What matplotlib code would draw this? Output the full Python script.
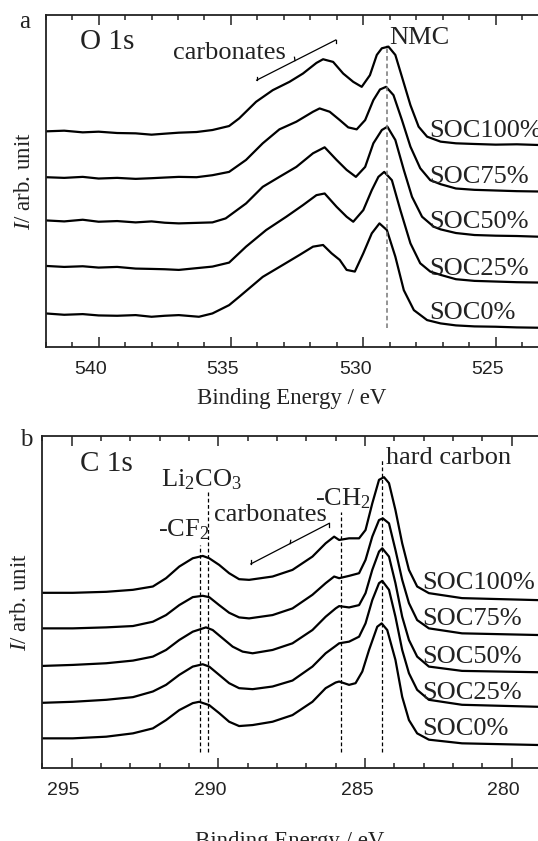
import matplotlib
matplotlib.use('Agg')
import matplotlib.pyplot as plt
from matplotlib.ticker import MultipleLocator
from matplotlib.transforms import ScaledTranslation

plt.rcParams['font.family'] = 'Liberation Serif'
plt.rcParams['mathtext.fontset'] = 'custom'
plt.rcParams['mathtext.rm'] = 'Liberation Serif'
plt.rcParams['mathtext.it'] = 'Liberation Serif:italic'

soc_labels = ['SOC100%', 'SOC75%', 'SOC50%', 'SOC25%', 'SOC0%']

# ---- O 1s (panel a), binding energy in eV / offset intensity ----
o1s_e100 = [542.0, 541.3, 540.6, 540.0, 539.3, 538.6, 538.0, 537.5, 536.97, 536.3, 535.70, 535.07,
            534.69, 534.05, 533.42, 532.79, 532.28, 531.77, 531.52, 531.14, 530.76, 530.38, 530.06,
            529.75, 529.49, 529.30, 529.05, 528.79, 528.54, 528.22, 527.91, 527.59, 527.08, 526.5,
            525.8, 525.0, 524.2, 523.4]
o1s_i100 = [6.50, 6.52, 6.47, 6.49, 6.45, 6.44, 6.40, 6.43, 6.46, 6.48, 6.54, 6.66,
            6.89, 7.39, 7.74, 7.99, 8.24, 8.56, 8.67, 8.59, 8.24, 7.99, 7.84,
            8.19, 8.80, 9.00, 9.05, 8.80, 8.14, 7.29, 6.64, 6.34, 6.19, 6.14,
            6.12, 6.10, 6.11, 6.09]
o1s_e75 = [542.0, 541.3, 540.6, 540.0, 539.3, 538.6, 538.0, 537.5, 536.97, 536.3, 535.70, 535.07,
           534.43, 533.80, 533.17, 532.53, 531.90, 531.65, 531.27, 530.89, 530.57, 530.25, 529.93,
           529.62, 529.37, 529.14, 528.86, 528.54, 528.22, 527.85, 527.47, 527.08, 526.5, 525.8,
           525.0, 524.2, 523.4]
o1s_i75 = [5.12, 5.10, 5.13, 5.08, 5.10, 5.07, 5.09, 5.11, 5.13, 5.12, 5.18, 5.28,
           5.64, 6.14, 6.56, 6.79, 7.09, 7.19, 7.09, 6.84, 6.62, 6.56, 6.84,
           7.44, 7.76, 7.84, 7.59, 6.84, 6.04, 5.39, 5.03, 4.91, 4.78, 4.74,
           4.72, 4.70, 4.69]
o1s_e50 = [542.0, 541.3, 540.6, 540.0, 539.3, 538.6, 538.0, 537.5, 536.97, 535.70, 535.20, 534.43,
           533.80, 533.17, 532.53, 531.90, 531.46, 531.01, 530.63, 530.28, 529.93, 529.62, 529.30,
           529.09, 528.79, 528.47, 528.16, 527.78, 527.34, 527.08, 526.5, 525.8, 525.0, 524.2, 523.4]
o1s_i50 = [3.82, 3.79, 3.84, 3.78, 3.80, 3.76, 3.79, 3.75, 3.73, 3.76, 3.88, 4.33,
           4.83, 5.13, 5.43, 5.84, 6.02, 5.64, 5.34, 5.13, 5.43, 6.14, 6.54,
           6.64, 6.24, 5.34, 4.53, 3.93, 3.63, 3.55, 3.44, 3.38, 3.36, 3.35, 3.33]
o1s_e25 = [542.0, 541.3, 540.6, 540.0, 539.3, 538.6, 538.0, 537.5, 536.97, 535.70, 535.07, 534.43,
           533.67, 532.91, 532.28, 531.77, 531.46, 531.01, 530.63, 530.38, 530.00, 529.68, 529.43,
           529.21, 528.92, 528.60, 528.22, 527.85, 527.47, 527.08, 526.5, 525.8, 525.0, 524.2, 523.4]
o1s_i25 = [2.45, 2.42, 2.44, 2.40, 2.42, 2.37, 2.36, 2.35, 2.33, 2.43, 2.55, 3.03,
           3.53, 3.93, 4.28, 4.58, 4.63, 4.23, 3.93, 3.78, 4.13, 4.73, 5.13,
           5.28, 5.03, 4.13, 3.13, 2.53, 2.28, 2.18, 2.05, 2.00, 1.98, 1.96, 1.95]
o1s_e0 = [542.0, 541.3, 540.6, 540.0, 539.3, 538.6, 538.0, 537.5, 536.97, 536.21, 535.70, 535.07,
          534.69, 533.80, 533.04, 532.41, 531.90, 531.52, 531.20, 530.89, 530.63, 530.32, 530.00,
          529.68, 529.39, 529.11, 528.79, 528.47, 528.09, 527.59, 527.08, 526.5, 525.8, 525.0,
          524.2, 523.4]
o1s_i0 = [1.02, 0.98, 1.00, 0.96, 0.95, 0.97, 0.92, 0.95, 0.97, 0.92, 1.02, 1.27,
          1.52, 2.12, 2.48, 2.78, 3.03, 3.08, 2.83, 2.63, 2.33, 2.28, 2.83,
          3.43, 3.73, 3.53, 2.73, 1.72, 1.12, 0.82, 0.72, 0.66, 0.63, 0.62,
          0.60, 0.59]

# ---- C 1s (panel b) ----
c1s_e100 = [295.98, 294.96, 293.82, 292.91, 292.23, 291.78, 291.33, 290.87, 290.53, 290.31, 289.97,
            289.63, 289.29, 288.95, 288.15, 287.47, 286.79, 286.34, 286.05, 285.88, 285.54, 285.20,
            284.98, 284.75, 284.52, 284.35, 284.18, 283.96, 283.73, 283.50, 283.22, 282.82, 281.69, 279.1]
c1s_i100 = [5.28, 5.28, 5.31, 5.37, 5.47, 5.72, 6.07, 6.32, 6.39, 6.32, 6.12,
            5.87, 5.69, 5.67, 5.77, 5.97, 6.37, 6.77, 6.97, 6.87, 6.92, 6.92,
            7.17, 7.97, 8.68, 8.76, 8.58, 7.77, 6.77, 5.97, 5.47, 5.27, 5.12, 5.06]
c1s_e75 = [295.98, 294.96, 293.82, 292.91, 292.23, 291.78, 291.33, 290.87, 290.53, 290.31, 289.97,
           289.63, 289.29, 288.95, 288.15, 287.47, 286.79, 286.34, 286.05, 285.88, 285.54, 285.20,
           284.98, 284.75, 284.52, 284.39, 284.18, 283.96, 283.73, 283.50, 283.22, 282.82, 281.69, 279.1]
c1s_i75 = [4.21, 4.21, 4.24, 4.28, 4.41, 4.61, 4.91, 5.15, 5.19, 5.15, 4.91,
           4.68, 4.54, 4.51, 4.61, 4.81, 5.22, 5.57, 5.77, 5.72, 5.79, 5.87,
           6.27, 6.97, 7.47, 7.52, 7.37, 6.57, 5.67, 4.97, 4.46, 4.21, 4.06, 4.01]
c1s_e50 = [295.98, 294.96, 293.82, 292.91, 292.23, 291.78, 291.33, 290.87, 290.42, 290.19, 289.85,
           289.51, 289.17, 288.83, 288.15, 287.47, 286.79, 286.34, 286.00, 285.88, 285.54, 285.20,
           284.98, 284.75, 284.52, 284.41, 284.18, 283.96, 283.73, 283.50, 283.22, 282.82, 281.69, 279.1]
c1s_i50 = [3.08, 3.11, 3.16, 3.24, 3.36, 3.56, 3.86, 4.11, 4.24, 4.16, 3.91,
           3.66, 3.51, 3.46, 3.56, 3.76, 4.16, 4.56, 4.81, 4.88, 4.84, 4.91,
           5.27, 5.97, 6.52, 6.62, 6.37, 5.57, 4.56, 3.86, 3.36, 3.06, 2.93, 2.89]
c1s_e25 = [295.98, 294.96, 293.82, 292.91, 292.23, 291.78, 291.33, 290.87, 290.53, 290.31, 289.97,
           289.63, 289.29, 288.83, 288.15, 287.47, 286.79, 286.34, 286.00, 285.88, 285.54, 285.20,
           284.98, 284.75, 284.52, 284.41, 284.18, 283.96, 283.73, 283.50, 283.22, 282.82, 281.69, 279.1]
c1s_i25 = [1.97, 2.00, 2.06, 2.14, 2.31, 2.51, 2.81, 3.06, 3.13, 3.06, 2.81,
           2.56, 2.41, 2.38, 2.46, 2.64, 3.06, 3.46, 3.68, 3.76, 3.81, 3.96,
           4.36, 5.06, 5.57, 5.64, 5.37, 4.56, 3.56, 2.86, 2.36, 2.06, 1.91, 1.85]
c1s_e0 = [295.98, 294.96, 293.82, 292.91, 292.23, 291.78, 291.33, 290.87, 290.65, 290.31, 289.97,
          289.63, 289.29, 288.83, 288.15, 287.47, 286.79, 286.34, 286.00, 285.88, 285.54, 285.32,
          285.09, 284.86, 284.58, 284.43, 284.24, 283.96, 283.73, 283.50, 283.22, 282.82, 281.69, 279.1]
c1s_i0 = [0.90, 0.90, 0.95, 1.05, 1.20, 1.45, 1.75, 1.96, 2.00, 1.90, 1.66,
          1.40, 1.27, 1.30, 1.40, 1.60, 2.00, 2.41, 2.58, 2.61, 2.51, 2.56,
          2.91, 3.56, 4.26, 4.36, 4.16, 3.26, 2.15, 1.45, 1.05, 0.86, 0.75, 0.70]

o1s_label_y = [6.52, 5.13, 3.76, 2.36, 1.02]
c1s_label_y = [5.57, 4.49, 3.36, 2.26, 1.18]

INK = '#222222'

fig = plt.figure(figsize=(5.38, 8.41), dpi=100)
ax1 = fig.add_axes([0.0849, 0.587, 0.9151, 0.3951])
ax2 = fig.add_axes([0.0786, 0.0865, 0.9214, 0.3951])


def setup_axis(ax, xlim, majors, labelpad):
    ax.set_xlim(*xlim)
    ax.set_ylim(0, 10)
    ax.set_xticks(majors)
    ax.xaxis.set_minor_locator(MultipleLocator(1))
    ax.set_yticks([])
    ax.spines['right'].set_visible(False)
    for s in ['left', 'top', 'bottom']:
        ax.spines[s].set_linewidth(1.3)
        ax.spines[s].set_color(INK)
    ax.tick_params(axis='x', which='both', direction='in', top=True, bottom=True,
                   color=INK, width=1.1, pad=10)
    ax.tick_params(axis='x', which='major', length=7.5)
    ax.tick_params(axis='x', which='minor', length=3.5)
    # tick labels sit a little left of their ticks in the original
    for lab in ax.get_xticklabels():
        lab.set_fontfamily('Liberation Sans')
        lab.set_fontsize(14)
        lab.set_color(INK)
        lab.set_transform(lab.get_transform() + ScaledTranslation(-0.08, 0, fig.dpi_scale_trans))
    ax.set_xlabel('Binding Energy / eV', fontsize=16.5, labelpad=labelpad, color=INK)
    ax.set_ylabel('$I$/ arb. unit', fontsize=16.5, labelpad=8, color=INK)


# panel a: O 1s
o1s_curves = [(o1s_e100, o1s_i100), (o1s_e75, o1s_i75), (o1s_e50, o1s_i50),
              (o1s_e25, o1s_i25), (o1s_e0, o1s_i0)]
for e, i in o1s_curves:
    ax1.plot(e, i, color='black', lw=1.6, solid_joinstyle='round')
setup_axis(ax1, (542.0, 523.4), [540, 535, 530, 525], 7)
for lab, y in zip(soc_labels, o1s_label_y):
    ax1.text(527.5, y, lab, fontsize=19, va='center', ha='left', color=INK)
ax1.plot([529.09, 529.09], [0.57, 9.1], color='#777777', lw=1.1, ls=(0, (3, 2)))
ax1.text(529.03, 9.32, 'NMC', fontsize=19, va='center', ha='left', color=INK)
ax1.text(540.7, 9.2, 'O 1s', fontsize=21, va='center', ha='left', color=INK)
ax1.text(537.2, 8.87, 'carbonates', fontsize=19, va='center', ha='left', color=INK)
ax1.plot([534.03, 531.04], [8.04, 9.25], color='black', lw=0.9)
ax1.plot([534.03, 534.03], [8.04, 8.14], color='black', lw=0.9)
ax1.plot([531.04, 531.04], [9.25, 9.15], color='black', lw=0.9)
ax1.plot([532.58, 532.6], [8.63, 8.73], color='black', lw=0.9)

# panel b: C 1s
c1s_curves = [(c1s_e100, c1s_i100), (c1s_e75, c1s_i75), (c1s_e50, c1s_i50),
              (c1s_e25, c1s_i25), (c1s_e0, c1s_i0)]
for e, i in c1s_curves:
    ax2.plot(e, i, color='black', lw=1.6, solid_joinstyle='round')
setup_axis(ax2, (296.0, 279.1), [295, 290, 285, 280], 23)
for lab, y in zip(soc_labels, c1s_label_y):
    ax2.text(283.03, y, lab, fontsize=19, va='center', ha='left', color=INK)
for xpos, ytop in [(290.61, 6.72), (290.34, 8.37), (285.83, 7.72), (284.43, 9.3)]:
    ax2.plot([xpos, xpos], [0.5, ytop], color='black', lw=0.9, ls=(0, (3, 2)))
ax2.text(294.7, 9.17, 'C 1s', fontsize=21, va='center', ha='left', color=INK)
ax2.text(291.96, 8.67, 'Li$_2$CO$_3$', fontsize=19, va='center', ha='left', color=INK)
ax2.text(292.06, 7.17, '-CF$_2$', fontsize=19, va='center', ha='left', color=INK)
ax2.text(290.14, 7.62, 'carbonates', fontsize=19, va='center', ha='left', color=INK)
ax2.text(286.70, 8.12, '-CH$_2$', fontsize=19, va='center', ha='left', color=INK)
ax2.text(284.28, 9.33, 'hard carbon', fontsize=19, va='center', ha='left', color=INK)
ax2.plot([288.89, 286.22], [6.15, 7.37], color='black', lw=0.9)
ax2.plot([288.89, 288.89], [6.15, 6.27], color='black', lw=0.9)
ax2.plot([286.22, 286.22], [7.37, 7.25], color='black', lw=0.9)
ax2.plot([287.55, 287.53], [6.76, 6.86], color='black', lw=0.9)

fig.text(0.045, 0.974, 'a', fontsize=18, va='center', ha='center', color=INK)
fig.text(0.048, 0.477, 'b', fontsize=18, va='center', ha='center', color=INK)

fig.savefig('out.png', dpi=100)
